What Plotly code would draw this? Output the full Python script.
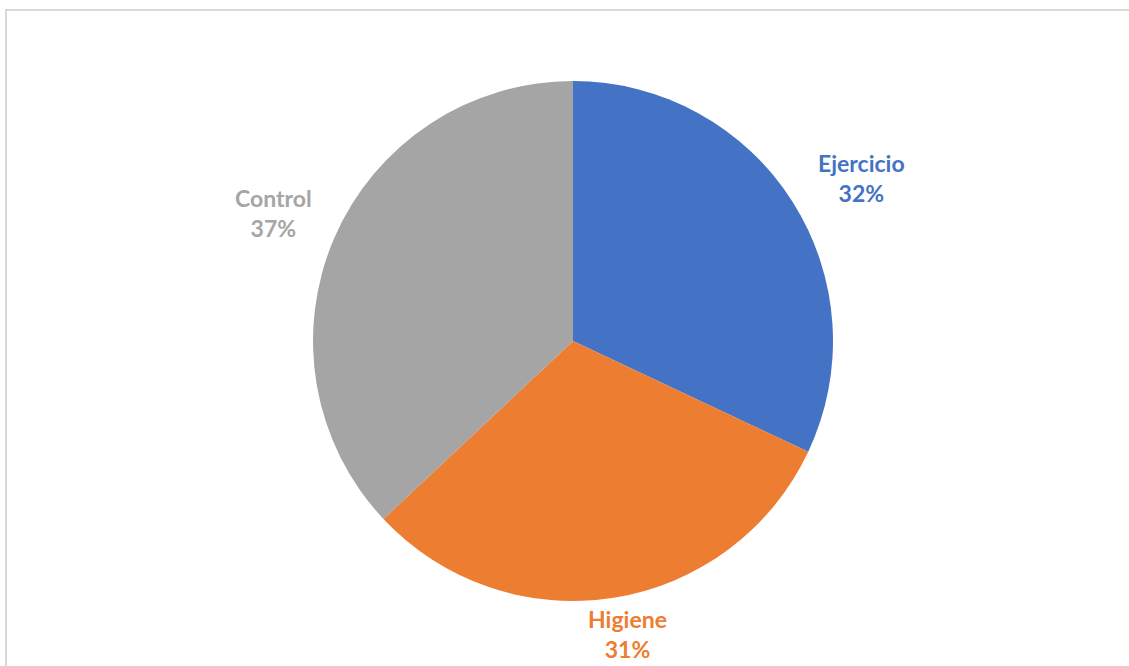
import plotly.graph_objects as go

# Group shares
groups = ["Ejercicio", "Higiene", "Control"]
shares = [32, 31, 37]
colors = ["#4472C4", "#ED7D31", "#A5A5A5"]

W, H = 1129, 666
cx, cy, r = 573, 341, 260  # pie centre and radius in pixels

# Label anchor points (pixels) for each group
label_px = {"Ejercicio": (861, 178), "Higiene": (627, 634), "Control": (273, 213)}

fig = go.Figure()
fig.add_trace(go.Pie(
    labels=groups,
    values=shares,
    marker=dict(colors=colors, line=dict(color="white", width=0)),
    sort=False,
    direction="clockwise",
    rotation=0,
    textinfo="none",
    hoverinfo="label+percent",
    showlegend=False,
    domain=dict(x=[(cx - r) / W, (cx + r) / W], y=[1 - (cy + r) / H, 1 - (cy - r) / H]),
))

total = sum(shares)
annotations = []
for g, v, c in zip(groups, shares, colors):
    px, py = label_px[g]
    annotations.append(dict(
        x=px / W, y=1 - py / H, xref="paper", yref="paper",
        text=f"<b>{g}</b><br><b>{round(v / total * 100)}%</b>",
        showarrow=False, xanchor="center", yanchor="middle",
        font=dict(family="Lato, Carlito, Calibri, sans-serif", size=23, color=c),
        align="center",
    ))

fig.update_layout(
    width=W, height=H,
    margin=dict(l=0, r=0, t=0, b=0),
    paper_bgcolor="white",
    plot_bgcolor="white",
    annotations=annotations,
    shapes=[dict(
        type="rect", xref="paper", yref="paper",
        x0=6 / W, x1=1.05, y0=-0.05, y1=1 - 10 / H,
        line=dict(color="#D9D9D9", width=2),
        fillcolor="rgba(0,0,0,0)", layer="below",
    )],
)

fig.write_html("out.html")
